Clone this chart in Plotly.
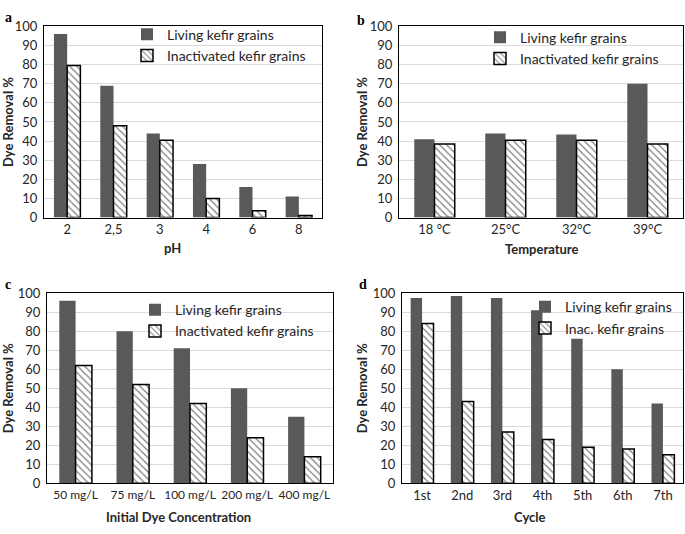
import plotly.graph_objects as go

W, H = 685, 534

# ---- data ----
ph_cats = ["2", "2,5", "3", "4", "6", "8"]
ph_living = [96, 69, 44, 28, 16, 11]
ph_inact = [79.5, 48, 40.5, 10, 3.5, 1]

temp_cats = ["18 °C", "25°C", "32°C", "39°C"]
temp_living = [41, 44, 43.5, 70]
temp_inact = [38.5, 40.5, 40.5, 38.5]

conc_cats = ["50 mg/L", "75 mg/L", "100 mg/L", "200 mg/L", "400 mg/L"]
conc_living = [96, 80, 71, 50, 35]
conc_inact = [62, 52, 42, 24, 14]

cycle_cats = ["1st", "2nd", "3rd", "4th", "5th", "6th", "7th"]
cycle_living = [97.5, 98.5, 97.5, 91, 76, 60, 42]
cycle_inact = [84, 43, 27, 23, 19, 18, 15]

y_ticks = list(range(0, 101, 10))

FONT = "Lato"
DARK = "#595959"
TXT = "#262626"

def px_x(p):
    return p / W

def px_y(p):
    return 1 - p / H

panels = [
    dict(cats=ph_cats, liv=ph_living, ina=ph_inact, inname="Inactivated kefir grains",
         xd=(44, 322), yd=(19, 216), leg=(127, 11), letter=(3, 10, "a"),
         ytx=8, xt=("pH", 172, 247), xfs=13),
    dict(cats=temp_cats, liv=temp_living, ina=temp_inact, inname="Inactivated kefir grains",
         xd=(399, 683), yd=(19, 216), leg=(480, 14), letter=(355, 13, "b"),
         ytx=362, xt=("Temperature", 541, 248), xfs=13),
    dict(cats=conc_cats, liv=conc_living, ina=conc_inact, inname="Inactivated kefir grains",
         xd=(47, 333), yd=(294, 490), leg=(135, 295), letter=(3, 285, "c"),
         ytx=8, xt=("Initial Dye Concentration", 178, 525), xfs=12),
    dict(cats=cycle_cats, liv=cycle_living, ina=cycle_inact, inname="Inac. kefir grains",
         xd=(402, 683), yd=(294, 490), leg=(525, 292), letter=(357, 285, "d"),
         ytx=362, xt=("Cycle", 530, 525), xfs=13),
]

fig = go.Figure()
annotations = []
layout = dict(
    width=W, height=H,
    margin=dict(l=0, r=0, t=0, b=0),
    paper_bgcolor="white", plot_bgcolor="white",
    barmode="group", bargap=0.43, bargroupgap=0,
    font=dict(family=FONT, size=13, color=TXT),
    showlegend=True,
)

for i, p in enumerate(panels, start=1):
    xa = "x" if i == 1 else f"x{i}"
    ya = "y" if i == 1 else f"y{i}"
    lg = "legend" if i == 1 else f"legend{i}"
    fig.add_trace(go.Bar(
        x=p["cats"], y=p["liv"], name="Living kefir grains",
        xaxis=xa, yaxis=ya, legend=lg,
        marker=dict(color=DARK, line=dict(width=0)),
    ))
    fig.add_trace(go.Bar(
        x=p["cats"], y=p["ina"], name=p["inname"],
        xaxis=xa, yaxis=ya, legend=lg,
        marker=dict(color="white", line=dict(color="black", width=1.5),
                    pattern=dict(shape="\\", fgcolor="black", bgcolor="white",
                                 size=5, solidity=0.25)),
    ))
    xkey = "xaxis" if i == 1 else f"xaxis{i}"
    ykey = "yaxis" if i == 1 else f"yaxis{i}"
    layout[xkey] = dict(
        domain=[px_x(p["xd"][0]), px_x(p["xd"][1])],
        anchor=ya, showline=True, linecolor="black", linewidth=1, mirror=True,
        ticks="", ticklen=0, showgrid=False, tickangle=0,
        tickfont=dict(family=FONT, size=p["xfs"], color=TXT),
        fixedrange=True,
    )
    layout[ykey] = dict(
        domain=[px_y(p["yd"][1]), px_y(p["yd"][0])],
        anchor=xa, range=[0, 100], tickvals=y_ticks, showline=True,
        linecolor="black", linewidth=1, mirror=True, ticks="", ticklen=0,
        showgrid=True, gridcolor="#d9d9d9", gridwidth=1, zeroline=False,
        tickfont=dict(family=FONT, size=13, color=TXT), ticklabelstandoff=3,
        fixedrange=True,
    )
    layout[lg] = dict(
        x=px_x(p["leg"][0]), y=px_y(p["leg"][1]), xanchor="left", yanchor="top",
        bgcolor="rgba(0,0,0,0)", font=dict(family=FONT, size=14, color=TXT),
        itemwidth=30, tracegroupgap=0, traceorder="normal",
    )
    lx, ly, lt = p["letter"]
    annotations.append(dict(text=f"<b>{lt}</b>", x=px_x(lx), y=px_y(ly), xref="paper", yref="paper",
                            xanchor="left", yanchor="middle", showarrow=False,
                            font=dict(family="Liberation Serif", size=14, color="black")))
    yc = (p["yd"][0] + p["yd"][1]) / 2
    annotations.append(dict(text="<b>Dye Removal %</b>", x=px_x(p["ytx"]), y=px_y(yc),
                            xref="paper", yref="paper", xanchor="center", yanchor="middle",
                            textangle=-90, showarrow=False,
                            font=dict(family=FONT, size=13, color=TXT)))
    t, tx, ty = p["xt"]
    annotations.append(dict(text=f"<b>{t}</b>", x=px_x(tx), y=px_y(ty), xref="paper", yref="paper",
                            xanchor="center", yanchor="middle", showarrow=False,
                            font=dict(family=FONT, size=13, color=TXT)))

layout["annotations"] = annotations
fig.update_layout(**layout)
fig.write_html("out.html", config={"displayModeBar": False},
               post_script="document.body.style.margin='0';document.body.style.overflow='hidden';")
